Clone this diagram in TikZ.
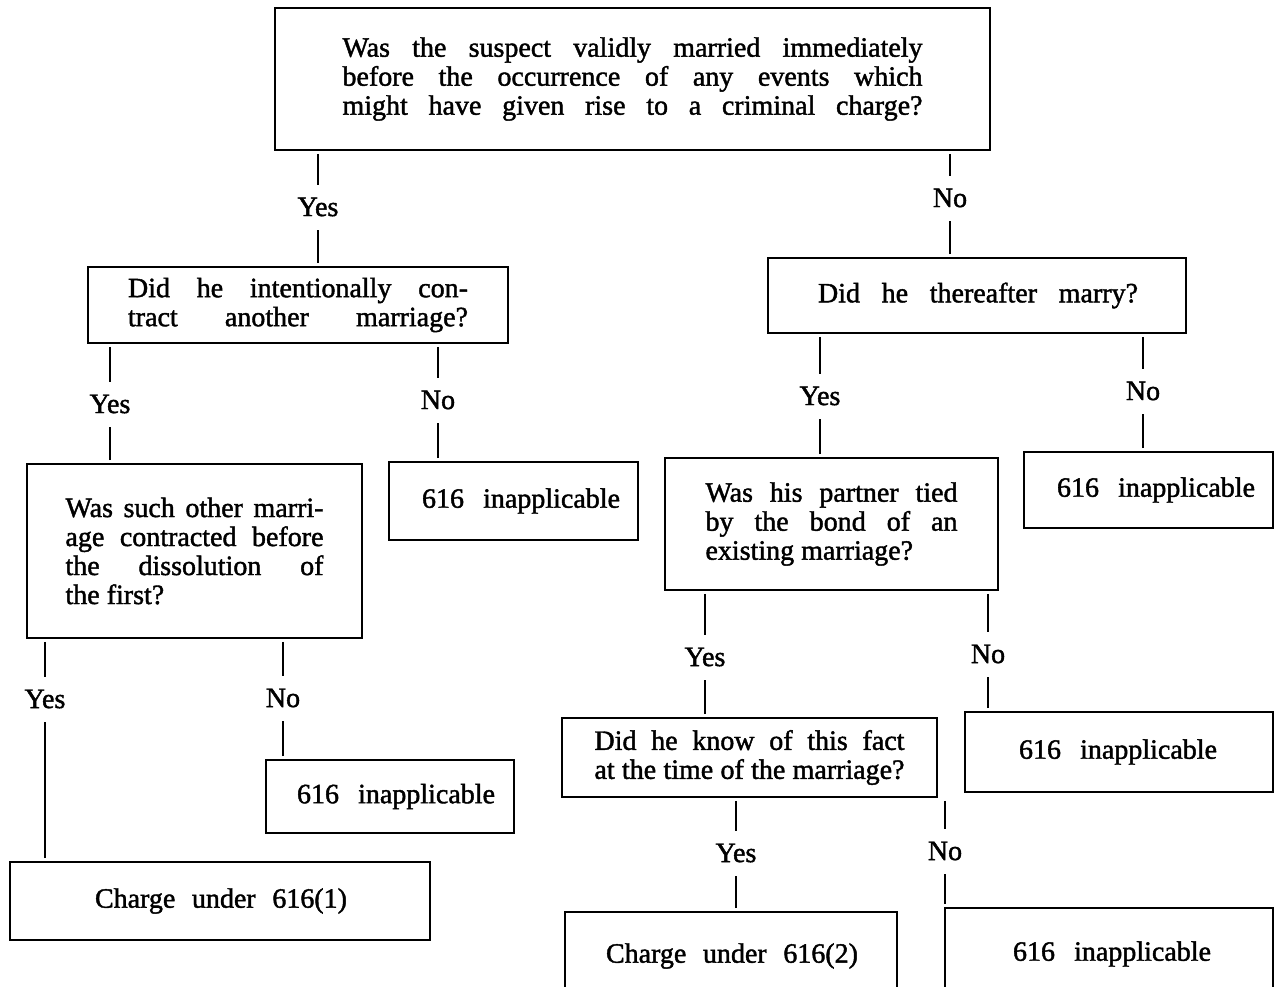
\documentclass[tikz,border=0pt]{standalone}
\usepackage{fontspec}
\setmainfont[FakeBold=1.5]{Liberation Serif}
\newcommand{\J}[2]{\makebox[#1pt][s]{#2}}
\begin{document}
\begin{tikzpicture}[x=1pt,y=-1pt,
  every node/.style={font=\fontsize{28}{29}\selectfont},
  box/.style={draw, line width=1.6pt, inner sep=0pt, align=left},
  lbl/.style={inner xsep=2pt, inner ysep=13pt},
  conn/.style={line width=1.6pt, shorten <=3pt}
]
\useasboundingbox (0,0) rectangle (1275,986);
% boxes
\node[box, minimum width=715, minimum height=142] (b1) at (632.5,79)
  {\J{580}{Was the suspect validly married immediately}\\
   \J{580}{before the occurrence of any events which}\\
   \J{580}{might have given rise to a criminal charge?}};
\node[box, minimum width=420, minimum height=76] (b3) at (298,305)
  {\J{340}{Did he intentionally con-}\\
   \J{340}{tract another marriage?}};
\node[box, minimum width=418, minimum height=75] (b4) at (977,295.5)
  {\hspace*{2pt}\J{320}{Did he thereafter marry?}};
\node[box, minimum width=335, minimum height=174] (b6) at (194.5,551)
  {\J{258}{Was such other marri-}\\
   \J{258}{age contracted before}\\
   \J{258}{the dissolution of}\\
   \makebox[258pt][l]{the first?}};
\node[box, minimum width=249, minimum height=78] (b7) at (513.5,501)
  {\hspace*{15pt}\J{198}{616 inapplicable}};
\node[box, minimum width=333, minimum height=132] (b9) at (831.5,524)
  {\J{252}{Was his partner tied}\\
   \J{252}{by the bond of an}\\
   \makebox[252pt][l]{existing marriage?}};
\node[box, minimum width=249, minimum height=76] (b10) at (1148.5,490)
  {\hspace*{15pt}\J{198}{616 inapplicable}};
\node[box, minimum width=248, minimum height=73] (b12) at (390,796.5)
  {\hspace*{12pt}\J{198}{616 inapplicable}};
\node[box, minimum width=420, minimum height=78] (b13) at (220,901)
  {\hspace*{2pt}\J{252}{Charge under 616(1)}};
\node[box, minimum width=375, minimum height=79] (b15) at (749.5,757.5)
  {\J{310}{Did he know of this fact}\\
   \J{310}{at the time of the marriage?}};
\node[box, minimum width=308, minimum height=80] (b16) at (1119,752)
  {\J{198}{616 inapplicable}\hspace*{2pt}};
\node[box, minimum width=332, minimum height=88] (b18) at (731,956)
  {\hspace*{2pt}\J{252}{Charge under 616(2)}};
\node[box, minimum width=328, minimum height=92] (b19) at (1109,954)
  {\hspace*{6pt}\J{198}{616 inapplicable}};
% labels
\node[lbl] (y1) at (318,207) {Yes};
\node[lbl] (n1) at (950,198) {No};
\node[lbl] (y2) at (110,404) {Yes};
\node[lbl] (n2) at (438,400) {No};
\node[lbl] (y3) at (820,396) {Yes};
\node[lbl] (n3) at (1143,391) {No};
\node[lbl] (y4) at (45,699) {Yes};
\node[lbl] (n4) at (283,698) {No};
\node[lbl] (y5) at (705,657) {Yes};
\node[lbl] (n5) at (988,654) {No};
\node[lbl] (y6) at (736,853) {Yes};
\node[lbl] (n6) at (945,851) {No};
% connectors
\foreach \a/\l/\b in {b1/y1/b3, b1/n1/b4, b3/y2/b6, b3/n2/b7, b4/y3/b9, b4/n3/b10,
  b6/y4/b13, b6/n4/b12, b9/y5/b15, b9/n5/b16, b15/y6/b18, b15/n6/b19}{
  \draw[conn] (\a.south -| \l) -- (\l.north);
  \draw[conn] (\b.north -| \l) -- (\l.south);
}
\end{tikzpicture}
\end{document}
